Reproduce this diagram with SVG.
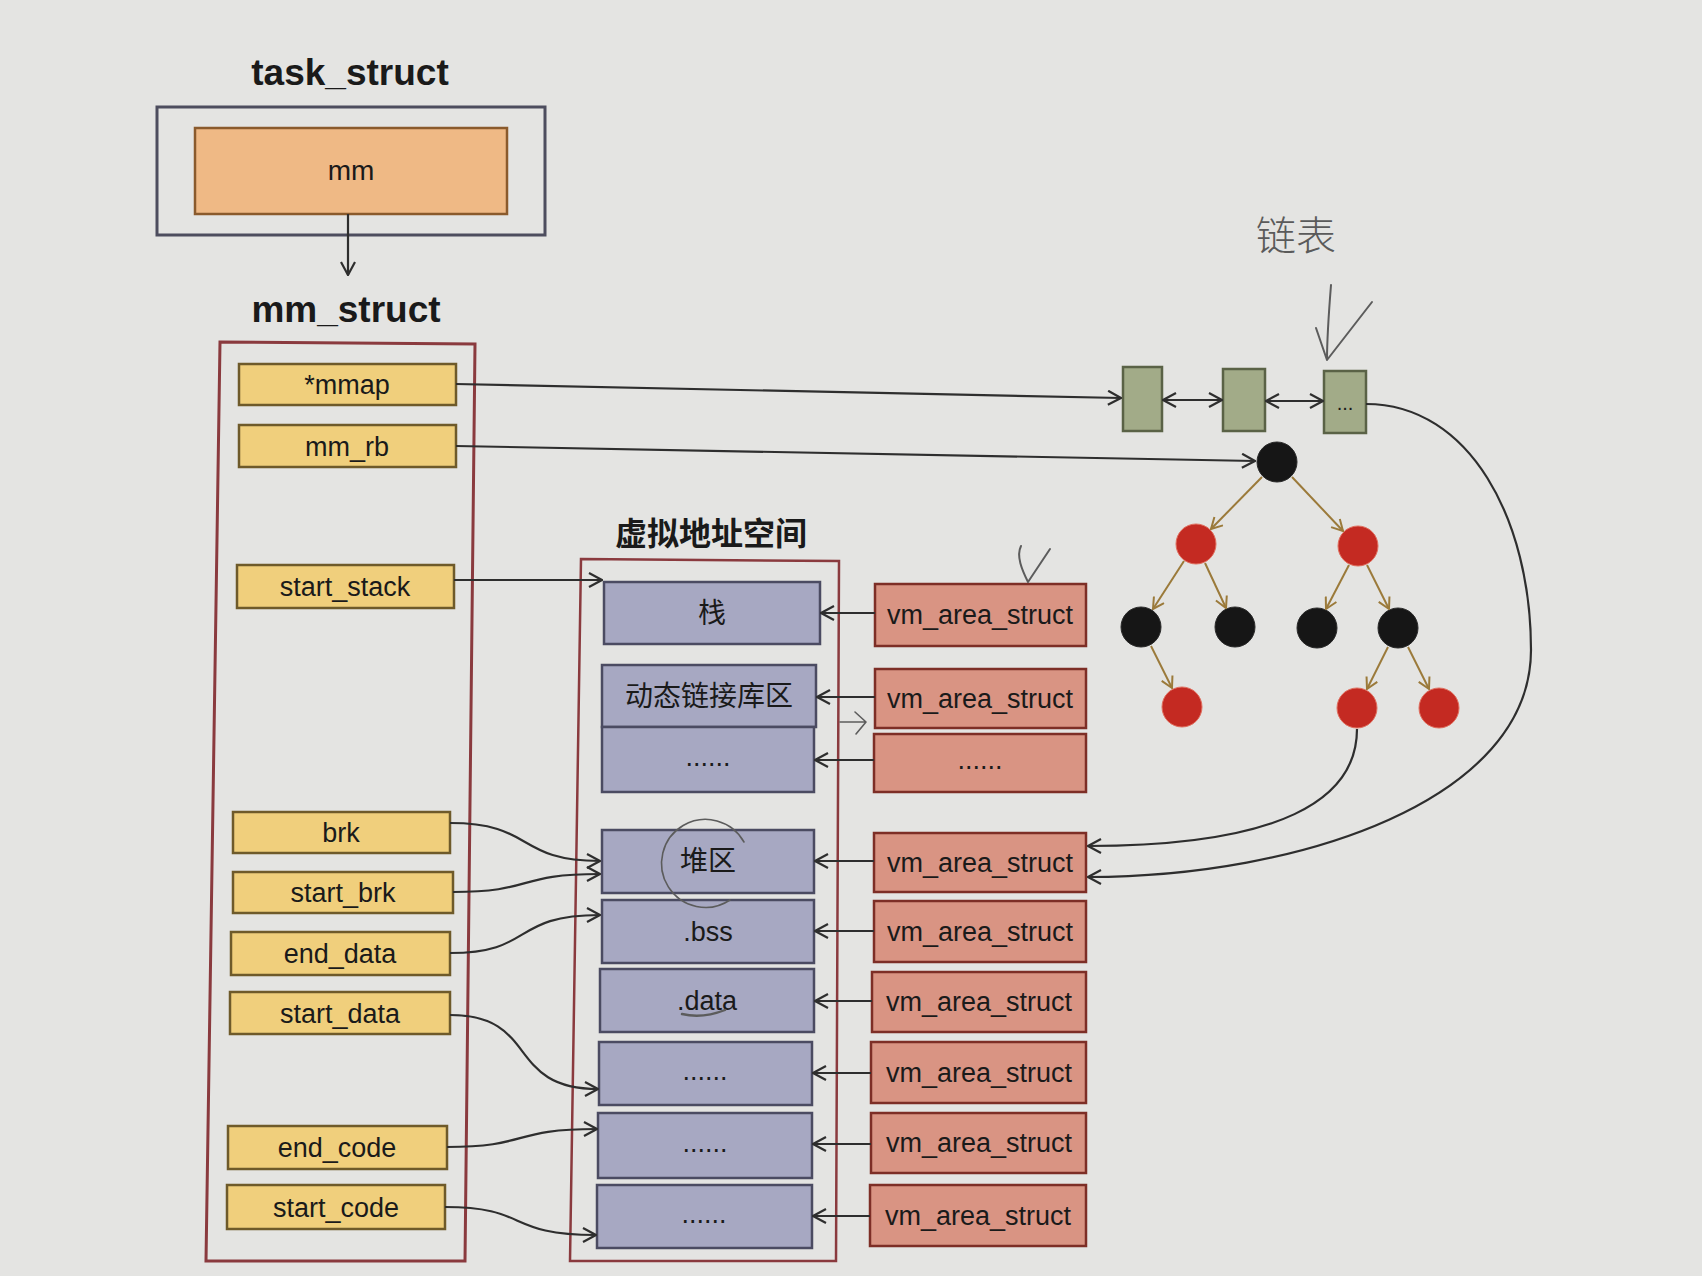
<svg xmlns="http://www.w3.org/2000/svg" width="1702" height="1276" viewBox="0 0 1702 1276">
<defs>
<style>
.bg{fill:#e4e4e2}
.yel{fill:#f0cf7c;stroke:#6e5a2a;stroke-width:2.5}
.org{fill:#efb985;stroke:#8a5a2c;stroke-width:2.5}
.pur{fill:#a7a8c2;stroke:#4b4b62;stroke-width:2.5}
.red{fill:#d99483;stroke:#7d2e26;stroke-width:2.5}
.grn{fill:#a2ab88;stroke:#5a6246;stroke-width:2.5}
.cont{fill:none;stroke:#8a3a3e;stroke-width:3}
.tbox{fill:none;stroke:#4d4d5e;stroke-width:3}
.lbl{font-family:"Liberation Sans",Arial,"Noto Sans CJK SC",sans-serif;font-size:27px;fill:#1a1a1a;text-anchor:middle}
.zh{font-family:"Noto Sans CJK SC","Liberation Sans",sans-serif;font-size:28px;fill:#1a1a1a;text-anchor:middle}
.title{font-family:"Liberation Sans",Arial,sans-serif;font-size:37px;font-weight:bold;fill:#1a1a1a;text-anchor:middle}
.ztitle{font-family:"Noto Sans CJK SC",sans-serif;font-size:32px;font-weight:bold;fill:#1a1a1a;text-anchor:middle}
.conn{fill:none;stroke:#2e2e2e;stroke-width:2.2}
.edge{fill:none;stroke:#9b7a3a;stroke-width:2}
.bn{fill:#161616;stroke:#2a2a2a;stroke-width:1}
.rn{fill:#c42a22;stroke:#e07060;stroke-width:1}
.pen{fill:none;stroke:#5c5c5c;stroke-width:2;stroke-linecap:round;stroke-linejoin:round}
.hand{font-family:"Noto Sans CJK SC",sans-serif;font-size:40px;font-weight:300;fill:#5a5a5a}
</style>
<marker id="arr" viewBox="0 0 16 16" refX="15" refY="8" markerWidth="16" markerHeight="16" markerUnits="userSpaceOnUse" orient="auto-start-reverse">
<path d="M2,1 L15,8 L2,15" fill="none" stroke="#2e2e2e" stroke-width="2.2"/>
</marker>
<marker id="tarr" viewBox="0 0 14 14" refX="13" refY="7" markerWidth="14" markerHeight="14" markerUnits="userSpaceOnUse" orient="auto">
<path d="M2,1 L13,7 L2,13" fill="none" stroke="#9b7a3a" stroke-width="2"/>
</marker>
</defs>
<rect class="bg" x="0" y="0" width="1702" height="1276"/>

<g id="task_struct">
<text class="title" x="350" y="85">task_struct</text>
<rect class="tbox" x="157" y="107" width="388" height="128"/>
</g>
<g id="mm">
<rect class="org" x="195" y="128" width="312" height="86"/>
<text class="lbl" x="351" y="180" style="font-size:28px">mm</text>
</g>

<g id="mm_struct">
<text class="title" x="346" y="322">mm_struct</text>
<polygon class="cont" points="220,342 475,344 465,1261 206,1261"/>
</g>
<g id="f_mmap"><rect class="yel" x="239" y="364" width="217" height="41"/><text class="lbl" x="347" y="394">*mmap</text></g>
<g id="f_mm_rb"><rect class="yel" x="239" y="425" width="217" height="42"/><text class="lbl" x="347" y="456">mm_rb</text></g>
<g id="f_start_stack"><rect class="yel" x="237" y="565" width="217" height="43"/><text class="lbl" x="345" y="596">start_stack</text></g>
<g id="f_brk"><rect class="yel" x="233" y="812" width="217" height="41"/><text class="lbl" x="341" y="842">brk</text></g>
<g id="f_start_brk"><rect class="yel" x="233" y="872" width="220" height="41"/><text class="lbl" x="343" y="902">start_brk</text></g>
<g id="f_end_data"><rect class="yel" x="231" y="932" width="219" height="43"/><text class="lbl" x="340" y="963">end_data</text></g>
<g id="f_start_data"><rect class="yel" x="230" y="992" width="220" height="42"/><text class="lbl" x="340" y="1023">start_data</text></g>
<g id="f_end_code"><rect class="yel" x="228" y="1126" width="219" height="43"/><text class="lbl" x="337" y="1157">end_code</text></g>
<g id="f_start_code"><rect class="yel" x="227" y="1185" width="218" height="44"/><text class="lbl" x="336" y="1217">start_code</text></g>

<g id="vas">
<text class="ztitle" x="711" y="545">虚拟地址空间</text>
<polygon class="cont" points="581,559 839,561 836,1261 570,1261" style="stroke-width:2.5"/>
</g>
<g id="v_stack"><rect class="pur" x="604" y="582" width="216" height="62"/><text class="zh" x="712" y="623">栈</text></g>
<g id="v_dyn"><rect class="pur" x="602" y="665" width="214" height="62"/><text class="zh" x="709" y="706">动态链接库区</text></g>
<g id="v_dots1"><rect class="pur" x="602" y="727" width="212" height="65"/><text class="lbl" x="708" y="766">......</text></g>
<g id="v_heap"><rect class="pur" x="602" y="830" width="212" height="63"/><text class="zh" x="708" y="871">堆区</text></g>
<g id="v_bss"><rect class="pur" x="602" y="900" width="212" height="63"/><text class="lbl" x="708" y="941">.bss</text></g>
<g id="v_data"><rect class="pur" x="600" y="969" width="214" height="63"/><text class="lbl" x="707" y="1010">.data</text></g>
<g id="v_dots2"><rect class="pur" x="599" y="1042" width="213" height="63"/><text class="lbl" x="705" y="1080">......</text></g>
<g id="v_dots3"><rect class="pur" x="598" y="1113" width="214" height="65"/><text class="lbl" x="705" y="1152">......</text></g>
<g id="v_dots4"><rect class="pur" x="597" y="1185" width="215" height="63"/><text class="lbl" x="704" y="1223">......</text></g>

<g id="vma1"><rect class="red" x="875" y="584" width="211" height="62"/><text class="lbl" x="980" y="624">vm_area_struct</text></g>
<g id="vma2"><rect class="red" x="875" y="669" width="211" height="59"/><text class="lbl" x="980" y="708">vm_area_struct</text></g>
<g id="vma3"><rect class="red" x="874" y="734" width="212" height="58"/><text class="lbl" x="980" y="769">......</text></g>
<g id="vma4"><rect class="red" x="874" y="833" width="212" height="59"/><text class="lbl" x="980" y="872">vm_area_struct</text></g>
<g id="vma5"><rect class="red" x="874" y="901" width="212" height="61"/><text class="lbl" x="980" y="941">vm_area_struct</text></g>
<g id="vma6"><rect class="red" x="872" y="972" width="214" height="60"/><text class="lbl" x="979" y="1011">vm_area_struct</text></g>
<g id="vma7"><rect class="red" x="871" y="1042" width="215" height="61"/><text class="lbl" x="979" y="1082">vm_area_struct</text></g>
<g id="vma8"><rect class="red" x="871" y="1113" width="215" height="60"/><text class="lbl" x="979" y="1152">vm_area_struct</text></g>
<g id="vma9"><rect class="red" x="870" y="1185" width="216" height="61"/><text class="lbl" x="978" y="1225">vm_area_struct</text></g>

<g id="list1"><rect class="grn" x="1123" y="367" width="39" height="64"/></g>
<g id="list2"><rect class="grn" x="1223" y="369" width="42" height="62"/></g>
<g id="list3"><rect class="grn" x="1324" y="371" width="42" height="62"/><text class="lbl" x="1345" y="410" style="font-size:20px">...</text></g>

<g id="rb_root"><circle class="bn" cx="1277" cy="462" r="20"/></g>
<g id="rb_l"><circle class="rn" cx="1196" cy="544" r="20"/></g>
<g id="rb_r"><circle class="rn" cx="1358" cy="546" r="20"/></g>
<g id="rb_ll"><circle class="bn" cx="1141" cy="627" r="20"/></g>
<g id="rb_lr"><circle class="bn" cx="1235" cy="627" r="20"/></g>
<g id="rb_rl"><circle class="bn" cx="1317" cy="628" r="20"/></g>
<g id="rb_rr"><circle class="bn" cx="1398" cy="628" r="20"/></g>
<g id="rb_llr"><circle class="rn" cx="1182" cy="707" r="20"/></g>
<g id="rb_rrl"><circle class="rn" cx="1357" cy="708" r="20"/></g>
<g id="rb_rrr"><circle class="rn" cx="1439" cy="708" r="20"/></g>

<g id="connectors">
<line class="conn" x1="348" y1="214" x2="348" y2="275" marker-end="url(#arr)"/>
<line class="conn" x1="456" y1="384" x2="1121" y2="398" marker-end="url(#arr)"/>
<line class="conn" x1="456" y1="446" x2="1255" y2="461" marker-end="url(#arr)"/>
<line class="conn" x1="1163" y1="400" x2="1222" y2="400" marker-start="url(#arr)" marker-end="url(#arr)"/>
<line class="conn" x1="1266" y1="401" x2="1323" y2="401" marker-start="url(#arr)" marker-end="url(#arr)"/>
<line class="conn" x1="454" y1="580" x2="602" y2="580" marker-end="url(#arr)"/>
<path class="conn" d="M450,823 C535,823 515,861 600,861" marker-end="url(#arr)"/>
<path class="conn" d="M453,892 C535,892 515,874 600,874" marker-end="url(#arr)"/>
<path class="conn" d="M450,953 C535,953 510,915 600,915" marker-end="url(#arr)"/>
<path class="conn" d="M450,1015 C540,1015 505,1089 598,1089" marker-end="url(#arr)"/>
<path class="conn" d="M447,1147 C530,1147 510,1129 597,1129" marker-end="url(#arr)"/>
<path class="conn" d="M445,1207 C530,1207 505,1235 596,1235" marker-end="url(#arr)"/>
<line class="conn" x1="875" y1="613" x2="821" y2="613" marker-end="url(#arr)"/>
<line class="conn" x1="875" y1="697" x2="817" y2="697" marker-end="url(#arr)"/>
<line class="conn" x1="874" y1="760" x2="815" y2="760" marker-end="url(#arr)"/>
<line class="conn" x1="874" y1="861" x2="815" y2="861" marker-end="url(#arr)"/>
<line class="conn" x1="874" y1="931" x2="815" y2="931" marker-end="url(#arr)"/>
<line class="conn" x1="872" y1="1001" x2="815" y2="1001" marker-end="url(#arr)"/>
<line class="conn" x1="871" y1="1073" x2="813" y2="1073" marker-end="url(#arr)"/>
<line class="conn" x1="871" y1="1144" x2="813" y2="1144" marker-end="url(#arr)"/>
<line class="conn" x1="870" y1="1216" x2="813" y2="1216" marker-end="url(#arr)"/>
<path class="conn" d="M1366,404 C1470,404 1531,520 1531,650 C1531,800 1300,877 1088,877" marker-end="url(#arr)"/>
<path class="conn" d="M1357,729 C1357,800 1280,846 1088,846" marker-end="url(#arr)"/>
<line class="edge" x1="1262" y1="477" x2="1211" y2="529" marker-end="url(#tarr)"/>
<line class="edge" x1="1292" y1="477" x2="1343" y2="531" marker-end="url(#tarr)"/>
<line class="edge" x1="1184" y1="561" x2="1153" y2="609" marker-end="url(#tarr)"/>
<line class="edge" x1="1205" y1="563" x2="1226" y2="608" marker-end="url(#tarr)"/>
<line class="edge" x1="1349" y1="565" x2="1326" y2="609" marker-end="url(#tarr)"/>
<line class="edge" x1="1367" y1="565" x2="1389" y2="609" marker-end="url(#tarr)"/>
<line class="edge" x1="1151" y1="646" x2="1172" y2="688" marker-end="url(#tarr)"/>
<line class="edge" x1="1388" y1="647" x2="1367" y2="689" marker-end="url(#tarr)"/>
<line class="edge" x1="1408" y1="647" x2="1429" y2="689" marker-end="url(#tarr)"/>
</g>

<g id="pencil">
<text class="hand" x="1256" y="250">链表</text>
<path class="pen" d="M1331,285 C1329,310 1327,335 1327,360 M1372,302 L1327,360 M1316,328 L1327,360"/>
<path class="pen" d="M1021,546 C1016,556 1022,570 1028,582 L1050,549"/>
<path class="pen" d="M840,722 L866,722 M855,712 L866,722 L856,734" style="stroke-width:1.6"/>
<path class="pen" d="M744,842 A44,44 0 1,0 730,900" style="stroke-width:1.6"/>
<path class="pen" d="M682,1014 Q702,1019 725,1010" style="stroke-width:2.4"/>
</g>
</svg>
